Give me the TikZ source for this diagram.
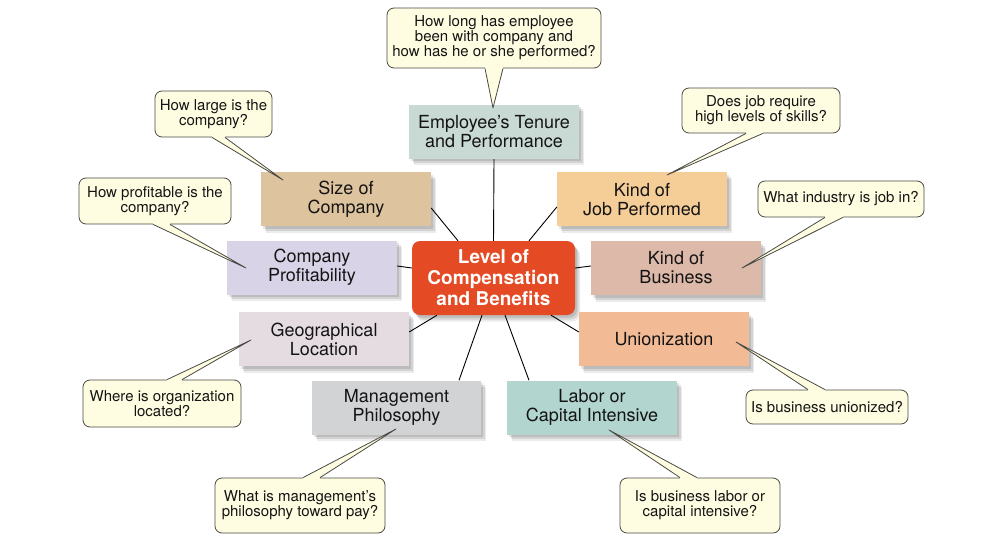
\documentclass[tikz,border=0pt]{standalone}
\usepackage{fontspec}
\setmainfont{TeX Gyre Heros}
\usetikzlibrary{shadows}
\definecolor{tenC}{HTML}{C9D9D3}
\definecolor{sizeC}{HTML}{DEC39F}
\definecolor{jobC}{HTML}{F5CD97}
\definecolor{profC}{HTML}{D9D3E8}
\definecolor{busC}{HTML}{DDB9A9}
\definecolor{geoC}{HTML}{E5DCE2}
\definecolor{unionC}{HTML}{F2BA95}
\definecolor{mgmtC}{HTML}{D2D3D5}
\definecolor{laborC}{HTML}{B2D5CF}
\definecolor{cenC}{HTML}{E44A24}
\definecolor{callfill}{HTML}{FFFDE1}
\definecolor{callline}{HTML}{4A4A44}
\definecolor{txtC}{HTML}{141414}
\newcommand\wedgeptr[6]{%
  \fill[callfill] ([xshift=#3pt]#1.#2) -- (#6) -- ([xshift=#4pt]#1.#2) -- ([xshift=#4pt,yshift=#5pt]#1.#2) -- ([xshift=#3pt,yshift=#5pt]#1.#2) -- cycle;
  \draw[wedgeline] ([xshift=#3pt]#1.#2) -- (#6) -- ([xshift=#4pt]#1.#2);
}
\begin{document}
\begin{tikzpicture}[x=1pt,y=-1pt,
  softshadow/.style={
    general shadow={shadow xshift=2pt,shadow yshift=-2.5pt,fill=black,opacity=0.10},
    general shadow={shadow xshift=3.5pt,shadow yshift=-4.5pt,fill=black,opacity=0.10},
    general shadow={shadow xshift=5pt,shadow yshift=-6.5pt,fill=black,opacity=0.08}},
  box/.style={rectangle, minimum width=170pt, minimum height=54pt, inner sep=0pt,
    align=center, font=\fontsize{18}{19}\selectfont, text=txtC, softshadow},
  cenbox/.style={rectangle, rounded corners=8pt, fill=cenC, minimum width=163pt,
    minimum height=74pt, inner sep=0pt, align=center, text=white,
    font=\fontsize{19}{21}\selectfont\bfseries, softshadow},
  call/.style={rectangle, rounded corners=7pt, draw=callline, line width=0.8pt,
    fill=callfill, inner sep=0pt, align=center, text=txtC,
    font=\fontsize{15}{15}\selectfont},
  wedgeline/.style={draw=callline, line width=0.8pt, line join=round},
  link/.style={draw=black, line width=0.9pt}
]
\useasboundingbox[fill=white] (0,0) rectangle (984,553);

% central node
\node[cenbox] (cen) at (493.5,278) {Level of\\Compensation\\and Benefits};

% factor boxes
\node[box, fill=tenC]   (ten)   at (494,132)   {Employee’s Tenure\\and Performance};
\node[box, fill=sizeC]  (size)  at (346,199.5) {Size of\\Company};
\node[box, fill=jobC]   (job)   at (642,199.5) {Kind of\\Job Performed};
\node[box, fill=profC]  (prof)  at (312,267.5) {Company\\Profitability};
\node[box, fill=busC]   (bus)   at (676,268)   {Kind of\\Business};
\node[box, fill=geoC]   (geo)   at (324,339)   {Geographical\\Location};
\node[box, fill=unionC] (union) at (664,339)   {Unionization};
\node[box, fill=mgmtC, minimum width=169pt]  (mgmt)  at (396.5,407.5) {Management\\Philosophy};
\node[box, fill=laborC] (labor) at (592,407.5) {Labor or\\Capital Intensive};

% connectors
\draw[link] (ten.south) -- (cen.north);
\draw[link] ([yshift=-8.5pt]size.east) -- ([xshift=-35.5pt]cen.north);
\draw[link] ([yshift=-7.5pt]job.west) -- ([xshift=35.5pt]cen.north);
\draw[link] ([yshift=1.5pt]prof.east) -- ([yshift=10pt]cen.west);
\draw[link] ([yshift=2pt]bus.west) -- ([yshift=10pt]cen.east);
\draw[link] ([yshift=7pt]geo.east) -- ([xshift=-56.5pt]cen.south);
\draw[link] ([yshift=7pt]union.west) -- ([xshift=57.5pt]cen.south);
\draw[link] ([xshift=62.5pt]mgmt.north) -- ([xshift=-11.5pt]cen.south);
\draw[link] ([xshift=-63pt]labor.north) -- ([xshift=11.5pt]cen.south);

% callouts
\node[call, minimum width=214pt, minimum height=60pt] (cTen) at (494,38)
  {How long has employee\\been with company and\\how has he or she performed?};
\node[call, minimum width=117pt, minimum height=46pt] (cSize) at (213.5,114)
  {How large is the\\company?};
\node[call, minimum width=152pt, minimum height=46pt] (cProf) at (155,201)
  {How profitable is the\\company?};
\node[call, minimum width=158pt, minimum height=45pt] (cJob) at (761,110.5)
  {Does job require\\high levels of skills?};
\node[call, minimum width=166pt, minimum height=36pt] (cBus) at (841,199)
  {What industry is job in?};
\node[call, minimum width=158pt, minimum height=47pt] (cGeo) at (162,403.5)
  {Where is organization\\located?};
\node[call, minimum width=162pt, minimum height=34pt] (cUnion) at (827,407)
  {Is business unionized?};
\node[call, minimum width=170pt, minimum height=55pt] (cMgmt) at (300,505.5)
  {What is management’s\\philosophy toward pay?};
\node[call, minimum width=160pt, minimum height=55pt] (cLabor) at (700,505.5)
  {Is business labor or\\capital intensive?};

% pointer tips
\coordinate (tTen) at (493,108);
\coordinate (tSize) at (283,180);
\coordinate (tProf) at (246,268);
\coordinate (tJob) at (667,175);
\coordinate (tBus) at (742,268);
\coordinate (tGeo) at (251,340);
\coordinate (tUnion) at (736,342);
\coordinate (tMgmt) at (396,429);
\coordinate (tLabor) at (609,430);

\wedgeptr{cTen}{south}{-9}{9}{2}{tTen}
\wedgeptr{cSize}{south}{-1.5}{11.5}{2}{tSize}
\wedgeptr{cProf}{south}{-2}{15}{2}{tProf}
\wedgeptr{cJob}{south}{-15}{2}{2}{tJob}
\wedgeptr{cBus}{south}{-16}{2}{2}{tBus}
\wedgeptr{cGeo}{north}{5}{20}{-2}{tGeo}
\wedgeptr{cUnion}{north}{-19}{-2}{-2}{tUnion}
\wedgeptr{cMgmt}{north}{3}{20}{-2}{tMgmt}
\wedgeptr{cLabor}{north}{-20}{-3}{-2}{tLabor}
\end{tikzpicture}
\end{document}
